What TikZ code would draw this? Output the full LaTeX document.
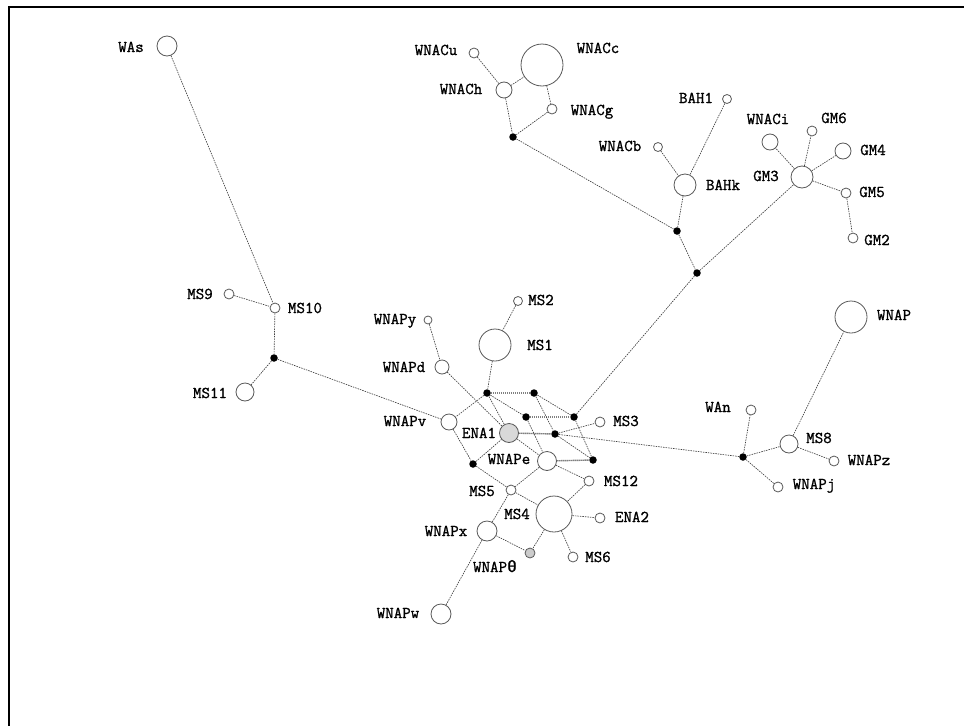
\documentclass[tikz,border=0pt]{standalone}
\usepackage{fontspec}
\newfontfamily\labfont[FakeBold=1.2]{Latin Modern Mono}
\newfontfamily\thfont[FakeBold=1.2]{Liberation Mono}
\begin{document}
\begin{tikzpicture}[x=1pt,y=-1pt,
  hap/.style={circle, draw=black!65, line width=0.8pt, inner sep=0pt, fill=white},
  jn/.style={circle, fill=black, inner sep=0pt, minimum size=7.5pt},
  lab/.style={inner sep=0pt, font={\labfont\fontsize{16.5}{18}\selectfont}, text height=10pt, text depth=0pt},
  link/.style={draw=black!75, line width=0.65pt, dash pattern=on 1.5pt off 1pt},
  blink/.style={draw=black!50, line width=1.4pt, dash pattern=on 1.5pt off 0.5pt},
  frame/.style={line width=2.5pt}]
\useasboundingbox (0,0) rectangle (964,726);
\draw[frame] (8,7) -- (964,7);
\draw[frame, line width=2pt] (9,7) -- (9,726);

% haplotype circles
\node[hap, minimum size=20pt] (WAs) at (167,46) {};
\node[hap, minimum size=10pt] (WNACu) at (474,53) {};
\node[hap, minimum size=42pt] (WNACc) at (542,65) {};
\node[hap, minimum size=16pt] (WNACh) at (504,90) {};
\node[hap, minimum size=10pt] (WNACg) at (552,109) {};
\node[hap, minimum size=9pt] (BAH1) at (727,99) {};
\node[hap, minimum size=9pt] (WNACb) at (658,147) {};
\node[hap, minimum size=22pt] (BAHk) at (685,185) {};
\node[hap, minimum size=16pt] (WNACi) at (770,142) {};
\node[hap, minimum size=10pt] (GM6) at (812,131) {};
\node[hap, minimum size=16pt] (GM4) at (843,151) {};
\node[hap, minimum size=22pt] (GM3) at (802,177) {};
\node[hap, minimum size=10pt] (GM5) at (846,193) {};
\node[hap, minimum size=10pt] (GM2) at (853,238) {};
\node[hap, minimum size=10pt] (MS9) at (229,294) {};
\node[hap, minimum size=10pt] (MS10) at (275,308) {};
\node[hap, minimum size=18pt] (MS11) at (245,392) {};
\node[hap, minimum size=9pt] (MS2) at (518,301) {};
\node[hap, minimum size=8pt] (WNAPy) at (428,320) {};
\node[hap, minimum size=32pt] (MS1) at (495,345) {};
\node[hap, minimum size=14pt] (WNAPd) at (442,367) {};
\node[hap, minimum size=16pt] (WNAPv) at (449,422) {};
\node[hap, minimum size=19pt, fill=gray!30] (ENA1) at (509,433) {};
\node[hap, minimum size=10pt] (MS3) at (600,422) {};
\node[hap, minimum size=19pt] (WNAPe) at (547,461) {};
\node[hap, minimum size=10pt] (MS12) at (589,481) {};
\node[hap, minimum size=10pt] (MS5) at (511,490) {};
\node[hap, minimum size=36pt] (MS4) at (554,514) {};
\node[hap, minimum size=10pt] (ENA2) at (600,518) {};
\node[hap, minimum size=20pt] (WNAPx) at (487,531) {};
\node[hap, minimum size=10pt, fill=gray!40] (WNAPth) at (530,553) {};
\node[hap, minimum size=10pt] (MS6) at (573,557) {};
\node[hap, minimum size=20pt] (WNAPw) at (441,614) {};
\node[hap, minimum size=32pt] (WNAP) at (851,317) {};
\node[hap, minimum size=10pt] (WAn) at (751,410) {};
\node[hap, minimum size=18pt] (MS8) at (789,444) {};
\node[hap, minimum size=10pt] (WNAPz) at (834,461) {};
\node[hap, minimum size=10pt] (WNAPj) at (778,487) {};

% median vectors
\node[jn] (J1) at (513,137) {};
\node[jn] (J2) at (677,231) {};
\node[jn] (J3) at (697,273) {};
\node[jn] (J4) at (274,358) {};
\node[jn] (J5) at (487,393) {};
\node[jn] (J6) at (534,393) {};
\node[jn] (J7) at (526,417) {};
\node[jn] (J8) at (574,417) {};
\node[jn] (J9) at (555,434) {};
\node[jn] (J10) at (473,464) {};
\node[jn] (J11) at (593,460) {};
\node[jn] (J12) at (743,457) {};

% labels
\node[lab] (tWAs) at (131,47) {WAs};
\node[lab] (tWNACu) at (436,50) {WNACu};
\node[lab] (tWNACc) at (598,48) {WNACc};
\node[lab] (tWNACh) at (461,89) {WNACh};
\node[lab] (tWNACg) at (592,110) {WNACg};
\node[lab] (tBAH1) at (696,98) {BAH1};
\node[lab] (tWNACb) at (620,146) {WNACb};
\node[lab] (tBAHk) at (723,185) {BAHk};
\node[lab] (tWNACi) at (768,119) {WNACi};
\node[lab] (tGM6) at (834,118) {GM6};
\node[lab] (tGM4) at (873,150) {GM4};
\node[lab] (tGM3) at (766,176) {GM3};
\node[lab] (tGM5) at (872,192) {GM5};
\node[lab] (tGM2) at (877,240) {GM2};
\node[lab] (tMS9) at (200,294) {MS9};
\node[lab] (tMS10) at (305,308) {MS10};
\node[lab] (tMS11) at (210,393) {MS11};
\node[lab] (tMS2) at (541,300) {MS2};
\node[lab] (tWNAPy) at (395,319) {WNAPy};
\node[lab] (tMS1) at (540,345) {MS1};
\node[lab] (tWNAPd) at (404,367) {WNAPd};
\node[lab] (tWNAPv) at (405,421) {WNAPv};
\node[lab] (tENA1) at (479,433) {ENA1};
\node[lab] (tMS3) at (626,421) {MS3};
\node[lab] (tWNAPe) at (509,459) {WNAPe};
\node[lab] (tMS12) at (621,481) {MS12};
\node[lab] (tMS5) at (482,491) {MS5};
\node[lab] (tMS4) at (517,514) {MS4};
\node[lab] (tENA2) at (632,517) {ENA2};
\node[lab] (tWNAPx) at (446,531) {WNAPx};
\node[lab] (tWNAPth) at (495,567) {WNAP{\thfont θ}};
\node[lab] (tMS6) at (598,557) {MS6};
\node[lab] (tWNAPw) at (398,613) {WNAPw};
\node[lab] (tWNAP) at (894,315) {WNAP};
\node[lab] (tWAn) at (718,407) {WAn};
\node[lab] (tMS8) at (819,438) {MS8};
\node[lab] (tWNAPz) at (869,460) {WNAPz};
\node[lab] (tWNAPj) at (814,484) {WNAPj};

% links
\draw[link] (WAs) -- (MS10);
\draw[link] (MS9) -- (MS10);
\draw[link] (MS10) -- (J4);
\draw[link] (J4) -- (MS11);
\draw[link] (J4) -- (WNAPv);
\draw[link] (WNACu) -- (WNACh);
\draw[link] (WNACh) -- (WNACc);
\draw[link] (WNACc) -- (WNACg);
\draw[link] (WNACh) -- (J1);
\draw[link] (WNACg) -- (J1);
\draw[link] (J1) -- (J2);
\draw[link] (WNACb) -- (BAHk);
\draw[link] (BAH1) -- (BAHk);
\draw[link] (BAHk) -- (J2);
\draw[link] (J2) -- (J3);
\draw[link] (J3) -- (GM3);
\draw[link] (GM3) -- (WNACi);
\draw[link] (GM3) -- (GM6);
\draw[link] (GM3) -- (GM4);
\draw[link] (GM3) -- (GM5);
\draw[link] (GM5) -- (GM2);
\draw[link] (J3) -- (J8);
\draw[link] (MS2) -- (MS1);
\draw[link] (MS1) -- (J5);
\draw[link] (WNAPy) -- (WNAPd);
\draw[link] (WNAPd) -- (ENA1);
\draw[blink] (J5) -- (J6);
\draw[blink] (J7) -- (J8);
\draw[blink] (ENA1) -- (J9);
\draw[blink] (WNAPe) -- (J11);
\draw[link] (J5) -- (J7);
\draw[link] (J6) -- (J8);
\draw[link] (J6) -- (J9);
\draw[link] (J8) -- (J11);
\draw[link] (ENA1) -- (WNAPe);
\draw[link] (J9) -- (J11);
\draw[link] (J5) -- (ENA1);
\draw[link] (J7) -- (WNAPe);
\draw[link] (J5) -- (WNAPv);
\draw[link] (WNAPv) -- (J10);
\draw[link] (J10) -- (ENA1);
\draw[link] (J10) -- (MS5);
\draw[link] (J9) -- (MS3);
\draw[link] (J9) -- (J12);
\draw[link] (WNAPe) -- (MS5);
\draw[link] (WNAPe) -- (MS12);
\draw[link] (MS12) -- (MS4);
\draw[link] (MS5) -- (MS4);
\draw[link] (MS5) -- (WNAPx);
\draw[link] (MS4) -- (ENA2);
\draw[link] (MS4) -- (MS6);
\draw[link] (MS4) -- (WNAPth);
\draw[link] (WNAPx) -- (WNAPth);
\draw[link] (WNAPx) -- (WNAPw);
\draw[link] (J12) -- (WAn);
\draw[link] (J12) -- (MS8);
\draw[link] (J12) -- (WNAPj);
\draw[link] (MS8) -- (WNAP);
\draw[link] (MS8) -- (WNAPz);
\end{tikzpicture}
\end{document}
